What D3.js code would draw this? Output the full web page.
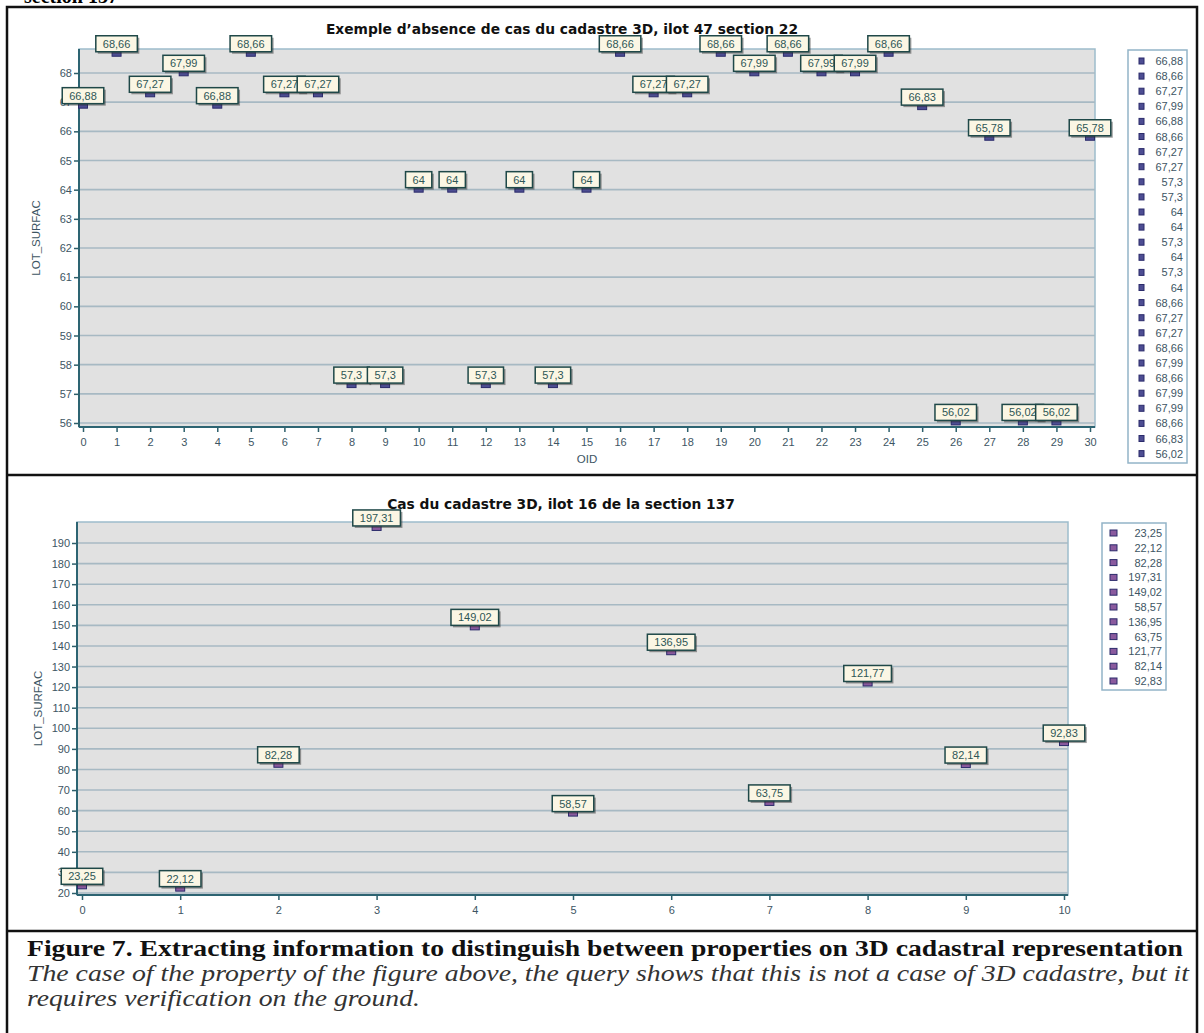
<!DOCTYPE html>
<html>
<head>
<meta charset="utf-8">
<script src="https://cdn.jsdelivr.net/npm/d3@7"></script>
<style>
  body { margin: 0; background: #fff; }
  svg { display: block; }
</style>
</head>
<body>
<svg id="fig" width="1204" height="1033"></svg>
<script>
// top chart: ilot 47 section 22
var oidTop = d3.range(0, 31);
var surfTop = [66.88, 68.66, 67.27, 67.99, 66.88, 68.66, 67.27, 67.27, 57.3, 57.3,
               64, 64, 57.3, 64, 57.3, 64, 68.66, 67.27, 67.27, 68.66,
               67.99, 68.66, 67.99, 67.99, 68.66, 66.83, 56.02, 65.78, 56.02, 56.02, 65.78];
var legendTop = ["66,88", "68,66", "67,27", "67,99", "66,88", "68,66", "67,27", "67,27", "57,3",
                 "57,3", "64", "64", "57,3", "64", "57,3", "64", "68,66", "67,27", "67,27",
                 "68,66", "67,99", "68,66", "67,99", "67,99", "68,66", "66,83", "56,02"];
var yTicksTop = d3.range(56, 69);

// bottom chart: ilot 16 section 137
var oidBottom = d3.range(0, 11);
var surfBottom = [23.25, 22.12, 82.28, 197.31, 149.02, 58.57, 136.95, 63.75, 121.77, 82.14, 92.83];
var yTicksBottom = d3.range(20, 200, 10);

var fmt = function (v) { return String(v).replace(".", ","); };

var svg = d3.select("#fig");

// clipped heading from the page above
svg.append("text").attr("x", 24).attr("y", 3)
  .attr("font-family", "Liberation Serif").attr("font-weight", "bold").attr("font-size", 20)
  .text("section 137");

// frame and dividers
var frame = svg.append("g").attr("fill", "none").attr("stroke", "#111").attr("stroke-width", 2.5);
frame.append("rect").attr("x", 7).attr("y", 7).attr("width", 1190).attr("height", 1040);
frame.append("line").attr("x1", 7).attr("x2", 1197).attr("y1", 475).attr("y2", 475);
frame.append("line").attr("x1", 7).attr("x2", 1197).attr("y1", 931).attr("y2", 931);

function drawChart(cfg) {
  var g = svg.append("g");
  var x = d3.scaleLinear().domain(cfg.xDomain).range(cfg.xRange);
  var y = d3.scaleLinear().domain(cfg.yDomain).range(cfg.yRange);
  var left = cfg.box[0], right = cfg.box[1], top = cfg.box[2], bottom = cfg.box[3];

  g.append("rect").attr("x", left).attr("y", top)
    .attr("width", right - left).attr("height", bottom - top)
    .attr("fill", "#e1e1e1").attr("stroke", "#9dbccb").attr("stroke-width", 1.5);

  // grid
  g.append("g").selectAll("line").data(cfg.yTicks).enter().append("line")
    .attr("x1", left).attr("x2", right)
    .attr("y1", function (d) { return y(d); }).attr("y2", function (d) { return y(d); })
    .attr("stroke", "#a7b9c3").attr("stroke-width", 1.6);

  // axes
  var yAxis = g.append("g").attr("transform", "translate(" + left + ",0)")
    .call(d3.axisLeft(y).tickValues(cfg.yTicks).tickSize(5).tickPadding(2));
  var xAxis = g.append("g").attr("transform", "translate(0," + bottom + ")")
    .call(d3.axisBottom(x).tickValues(cfg.xTicks).tickSize(5).tickPadding(6));
  [yAxis, xAxis].forEach(function (a) {
    a.select(".domain").remove();
    a.selectAll("line").attr("stroke", "#2d5f6b").attr("stroke-width", 1.5);
    a.selectAll("text").attr("font-family", "Liberation Sans").attr("font-size", 11)
      .attr("fill", "#3d5563");
  });
  g.append("line").attr("x1", left).attr("x2", left).attr("y1", top).attr("y2", bottom)
    .attr("stroke", "#2d6472").attr("stroke-width", 2);
  g.append("line").attr("x1", left).attr("x2", right).attr("y1", bottom).attr("y2", bottom)
    .attr("stroke", "#2d6472").attr("stroke-width", 2);

  // titles
  g.append("text").attr("x", cfg.titleX).attr("y", cfg.titleY).attr("text-anchor", "middle")
    .attr("font-family", "DejaVu Sans").attr("font-weight", "bold").attr("font-size", 13.8)
    .attr("fill", "#111").text(cfg.title);
  g.append("text").attr("transform", "translate(" + cfg.yLabelX + "," + (top + bottom) / 2 + ") rotate(-90)")
    .attr("text-anchor", "middle").attr("font-family", "Liberation Sans").attr("font-size", 11.5)
    .attr("fill", "#3d5563").text("LOT_SURFAC");
  if (cfg.xLabel) {
    g.append("text").attr("x", (left + right) / 2).attr("y", bottom + 36).attr("text-anchor", "middle")
      .attr("font-family", "Liberation Sans").attr("font-size", 11.5)
      .attr("fill", "#3d5563").text(cfg.xLabel);
  }

  // points with their label boxes
  var pts = g.append("g").selectAll("g").data(cfg.values).enter().append("g")
    .attr("transform", function (d, i) { return "translate(" + x(cfg.xs[i]) + "," + y(d) + ")"; });
  pts.append("rect").attr("x", -4.5).attr("y", -2.5).attr("width", 9).attr("height", 5)
    .attr("fill", cfg.markFill).attr("stroke", "#2b2b6b").attr("stroke-width", 1);
  pts.each(function (d) {
    var p = d3.select(this);
    var t = p.append("text").attr("text-anchor", "middle").attr("y", -6)
      .attr("font-family", "Liberation Sans").attr("font-size", 11)
      .attr("fill", "#2e5656").text(fmt(d));
    var w = t.node().getComputedTextLength() + 14;
    p.insert("rect", "text").attr("x", -w / 2 + 2).attr("y", -16).attr("width", w).attr("height", 16)
      .attr("fill", "rgba(40,40,40,0.45)");
    p.insert("rect", "text").attr("x", -w / 2).attr("y", -18).attr("width", w).attr("height", 16)
      .attr("fill", "#fbf6e4").attr("stroke", "#1f4848").attr("stroke-width", 1.5);
  });

  // legend
  var lg = g.append("g");
  lg.append("rect").attr("x", cfg.legend.x).attr("y", cfg.legend.y)
    .attr("width", cfg.legend.w).attr("height", cfg.legend.h)
    .attr("fill", "#fff").attr("stroke", "#93b4c8").attr("stroke-width", 1.5);
  var items = lg.selectAll("g").data(cfg.legend.labels).enter().append("g")
    .attr("transform", function (d, i) {
      return "translate(" + cfg.legend.x + "," + (cfg.legend.y + cfg.legend.first + i * cfg.legend.step) + ")";
    });
  items.append("rect").attr("x", cfg.legend.markX).attr("y", -3).attr("width", cfg.legend.markW).attr("height", 6)
    .attr("fill", cfg.markFill).attr("stroke", "#2b2b6b").attr("stroke-width", 1);
  items.append("text").attr("x", cfg.legend.w - 4).attr("y", 4).attr("text-anchor", "end")
    .attr("font-family", "Liberation Sans").attr("font-size", 11).attr("fill", "#3d5563")
    .text(function (d) { return d; });
}

drawChart({
  xs: oidTop, values: surfTop,
  xDomain: [0, 30], xRange: [83, 1090],
  yDomain: [56, 68], yRange: [423, 73],
  box: [79, 1095, 49, 427],
  xTicks: oidTop, yTicks: yTicksTop,
  title: "Exemple d\u2019absence de cas du cadastre 3D, ilot 47 section 22",
  titleX: 562, titleY: 34, yLabelX: 40, xLabel: "OID",
  markFill: "#4d4d92",
  legend: { x: 1128, y: 50, w: 59, h: 413, first: 11, step: 15.1, markX: 11, markW: 5, labels: legendTop }
});

drawChart({
  xs: oidBottom, values: surfBottom,
  xDomain: [0, 10], xRange: [82, 1064],
  yDomain: [20, 190], yRange: [893, 543],
  box: [77, 1068, 522, 895],
  xTicks: oidBottom, yTicks: yTicksBottom,
  title: "Cas du cadastre 3D, ilot 16 de la section 137",
  titleX: 561, titleY: 509, yLabelX: 42, xLabel: null,
  markFill: "#8a5a9e",
  legend: { x: 1102, y: 523, w: 64, h: 167, first: 10, step: 14.8, markX: 8, markW: 7,
            labels: surfBottom.map(fmt) }
});

// caption: glyphs widened a little so the lines fill the box as in the scan
var cap = svg.append("g").attr("font-family", "Liberation Serif").attr("font-size", 23.5).attr("fill", "#111");
var head = cap.append("text").attr("x", 27).attr("y", 956).attr("font-weight", "bold")
  .text("Figure 7. Extracting information to distinguish between properties on 3D cadastral representation");
var stretch = 1156 / head.node().getComputedTextLength();
head.attr("textLength", 1156).attr("lengthAdjust", "spacingAndGlyphs");
cap.append("text").attr("x", 27).attr("y", 981).attr("font-style", "italic").attr("fill", "#333")
  .attr("textLength", 1162).attr("lengthAdjust", "spacingAndGlyphs")
  .text("The case of the property of the figure above, the query shows that this is not a case of 3D cadastre, but it");
var last = cap.append("text").attr("x", 27).attr("y", 1006).attr("font-style", "italic").attr("fill", "#333")
  .text("requires verification on the ground.");
last.attr("textLength", last.node().getComputedTextLength() * stretch).attr("lengthAdjust", "spacingAndGlyphs");
</script>
</body>
</html>
